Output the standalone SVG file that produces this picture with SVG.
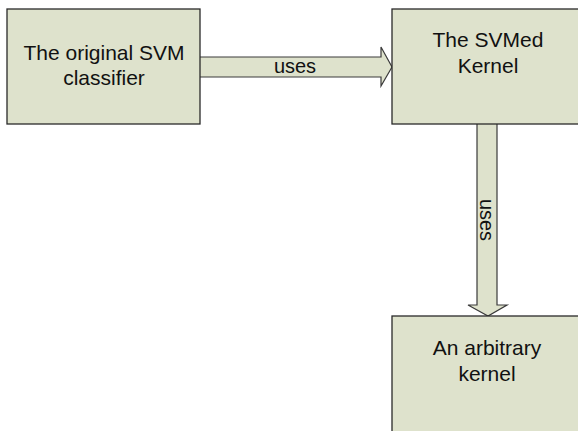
<svg xmlns="http://www.w3.org/2000/svg" width="578" height="431" viewBox="0 0 578 431">
  <style>
    .box { fill: #dee2cc; stroke: #2a2a2a; stroke-width: 1.3; }
    .arrow { fill: #dee2cc; stroke: #3a3a3a; stroke-width: 1.2; stroke-linejoin: miter; }
    .label { font-family: "Liberation Sans", Arial, sans-serif; font-size: 21px; fill: #111; text-anchor: middle; }
    .edge-label { font-family: "Liberation Sans", Arial, sans-serif; font-size: 20px; fill: #111; text-anchor: middle; }
  </style>
  <rect width="578" height="431" fill="#ffffff"/>

  <g id="connectors">
    <!-- classifier -> SVMed kernel -->
    <path class="arrow" d="M200,57 L381,57 L381,47 L392,67 L381,86 L381,77 L200,77"/>
    <text class="edge-label" x="295" y="73">uses</text>
    <!-- SVMed kernel -> arbitrary kernel -->
    <path class="arrow" d="M477,124 L477,305 L468,305 L488,316 L507,305 L497,305 L497,124"/>
    <text class="edge-label" transform="translate(480,220) rotate(90)">uses</text>
  </g>

  <g id="svm-classifier">
    <rect class="box" x="7" y="9" width="193" height="115"/>
    <text class="label" x="104" y="60">The original SVM</text>
    <text class="label" x="104" y="85">classifier</text>
  </g>

  <g id="svmed-kernel">
    <rect class="box" x="392" y="9" width="200" height="115"/>
    <text class="label" x="488" y="47">The SVMed</text>
    <text class="label" x="488" y="73">Kernel</text>
  </g>

  <g id="arbitrary-kernel">
    <rect class="box" x="392" y="316" width="200" height="130"/>
    <text class="label" x="487" y="355">An arbitrary</text>
    <text class="label" x="487" y="381">kernel</text>
  </g>
</svg>
